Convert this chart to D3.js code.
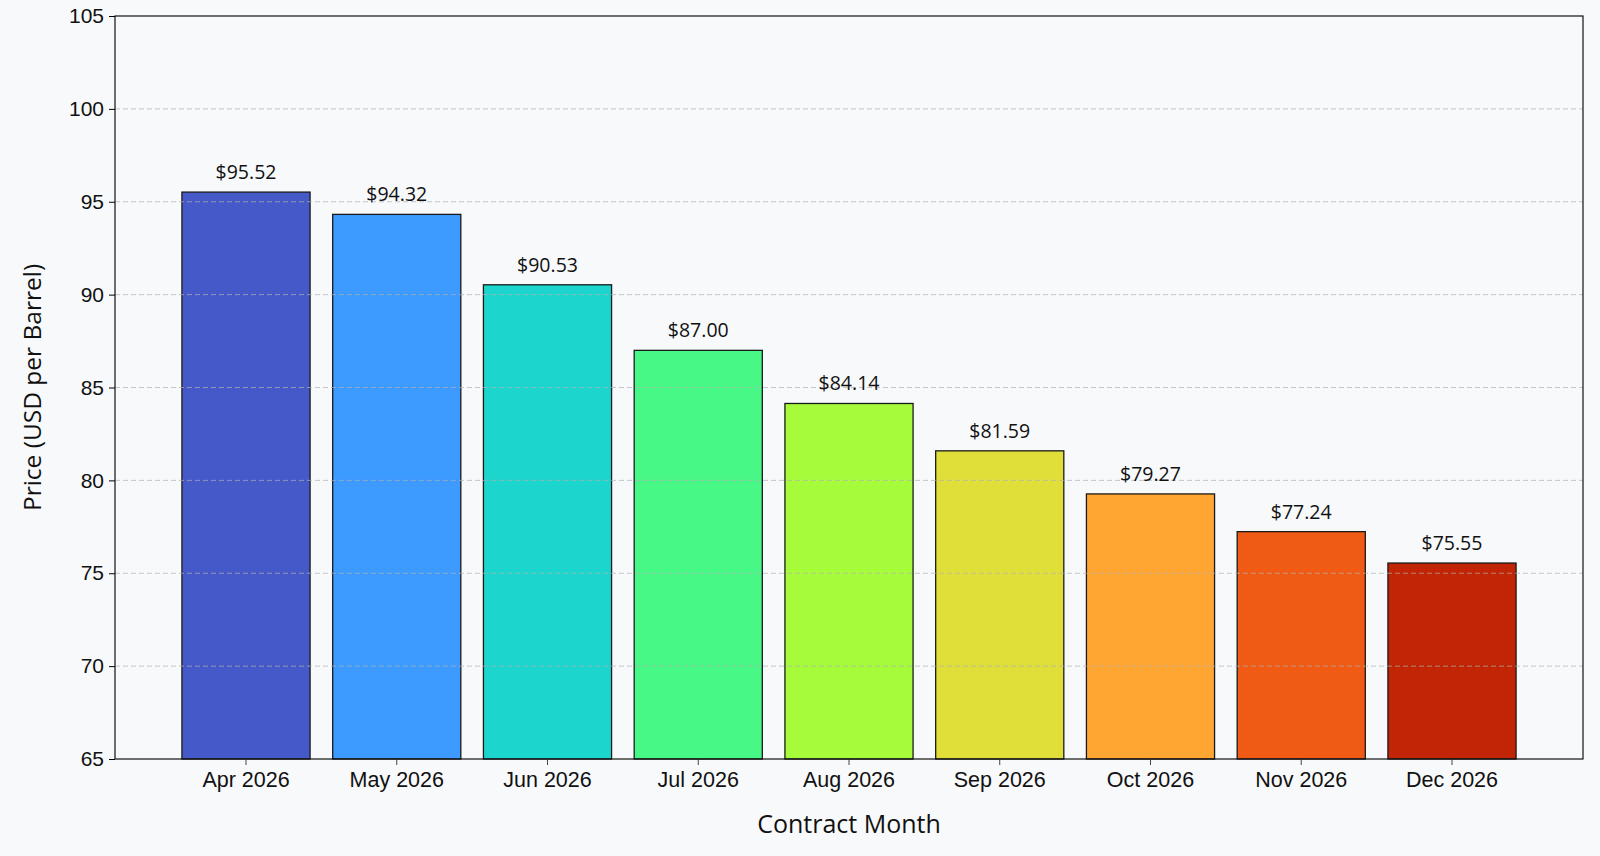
<!DOCTYPE html>
<html lang="en">
<head>
<meta charset="UTF-8">
<title>Contract Month Prices</title>
<script src="https://d3js.org/d3.v7.min.js"></script>
<style>
  body { margin: 0; padding: 0; background: #f8f9fb; }
  svg { display: block; font-family: "Open Sans", "Noto Sans", sans-serif; }
  .tick text { fill: #111; }
</style>
</head>
<body>
<svg id="chart" width="1600" height="856"></svg>
<script>
// Data
const months = ["Apr 2026", "May 2026", "Jun 2026", "Jul 2026", "Aug 2026", "Sep 2026", "Oct 2026", "Nov 2026", "Dec 2026"];
const prices = [95.52, 94.32, 90.53, 87.00, 84.14, 81.59, 79.27, 77.24, 75.55];
const barColors = ["#4559c9", "#3d9bff", "#1cd6cd", "#48f886", "#a6fb3a", "#e0df3a", "#ffa632", "#ef5b14", "#c12505"];
const yTicks = [65, 70, 75, 80, 85, 90, 95, 100, 105];

const width = 1600, height = 856;
const margin = { top: 16, right: 17, bottom: 97, left: 115 };
const innerW = width - margin.left - margin.right;
const innerH = height - margin.top - margin.bottom;

const svg = d3.select("#chart");
const g = svg.append("g").attr("transform", `translate(${margin.left},${margin.top})`);

const x = d3.scaleBand()
  .domain(months)
  .range([0, innerW])
  .paddingInner(0.15)
  .paddingOuter(0.444);

const y = d3.scaleLinear().domain([65, 105]).range([innerH, 0]);

// Bars
g.selectAll("rect.bar")
  .data(months)
  .enter().append("rect")
  .attr("class", "bar")
  .attr("x", d => x(d))
  .attr("y", (d, i) => y(prices[i]))
  .attr("width", x.bandwidth())
  .attr("height", (d, i) => innerH - y(prices[i]))
  .attr("fill", (d, i) => barColors[i])
  .attr("stroke", "#1a1a1a")
  .attr("stroke-width", 1.3);

// Grid lines (drawn over bars, light and dashed)
g.append("g")
  .selectAll("line")
  .data(yTicks.filter(t => t > 65 && t < 105))
  .enter().append("line")
  .attr("x1", 0)
  .attr("x2", innerW)
  .attr("y1", d => y(d))
  .attr("y2", d => y(d))
  .attr("stroke", "#b0b0b0")
  .attr("stroke-opacity", 0.7)
  .attr("stroke-width", 1)
  .attr("stroke-dasharray", "5,3");

// Value labels
g.selectAll("text.val")
  .data(months)
  .enter().append("text")
  .attr("class", "val")
  .attr("x", d => x(d) + x.bandwidth() / 2)
  .attr("y", (d, i) => y(prices[i]) - 13)
  .attr("text-anchor", "middle")
  .attr("font-size", 19.5)
  .attr("fill", "#111")
  .text((d, i) => "$" + prices[i].toFixed(2));

// Axes
const yAxis = g.append("g")
  .call(d3.axisLeft(y).tickValues(yTicks).tickSize(6).tickPadding(5));
yAxis.selectAll("text").attr("font-size", 21);
yAxis.select(".domain").remove();

const xAxis = g.append("g")
  .attr("transform", `translate(0,${innerH})`)
  .call(d3.axisBottom(x).tickSize(6).tickPadding(5));
xAxis.selectAll("text").attr("font-size", 21.5).attr("dy", "0.78em");
xAxis.select(".domain").remove();
xAxis.selectAll("line").attr("stroke", "#444");

// Frame
g.append("rect")
  .attr("x", 0).attr("y", 0)
  .attr("width", innerW).attr("height", innerH)
  .attr("fill", "none")
  .attr("stroke", "#111")
  .attr("stroke-width", 1.2);

// Axis titles
svg.append("text")
  .attr("x", margin.left + innerW / 2)
  .attr("y", 833)
  .attr("text-anchor", "middle")
  .attr("font-size", 25)
  .attr("fill", "#111")
  .text("Contract Month");

svg.append("text")
  .attr("transform", `translate(41,${margin.top + innerH / 2}) rotate(-90)`)
  .attr("text-anchor", "middle")
  .attr("font-size", 24.5)
  .attr("fill", "#111")
  .text("Price (USD per Barrel)");
</script>
</body>
</html>
